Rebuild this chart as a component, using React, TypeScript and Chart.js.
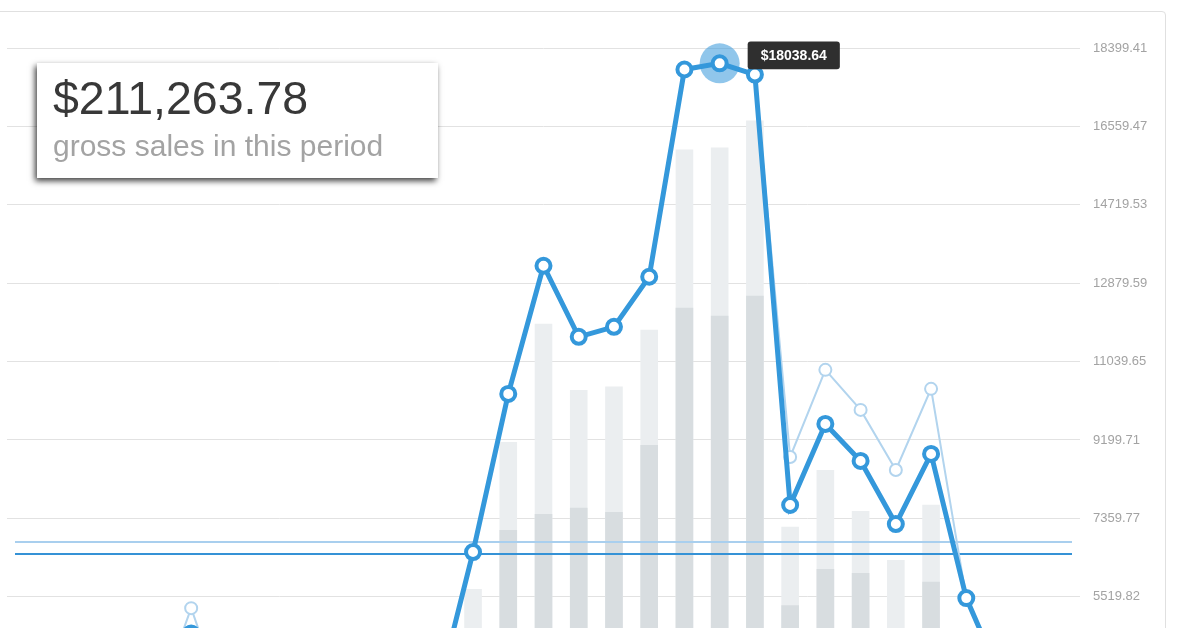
import React, { useEffect, useRef } from "react";
import { Chart, registerables, Tooltip } from "chart.js";

Chart.register(...registerables);

// ---- data ----
const days = ["1","2","3","4","5","6","7","8","9","10","11","12","13","14","15","16","17","18","19","20","21","22","23","24","25","26","27","28","29","30","31"];
const grossSales = [1850, 2420, 1610, 2180, 2950, 5254, 2870, 1540, 2090, 1760, 2330, 1980, 3280, 6570, 10282, 13289, 11621, 11856, 13031, 17895, 18038.64, 17777, 8802, 10846, 9906, 8496, 10400, 5489, 3585, 2240, 1690];
const netSales = [1850, 2420, 1610, 2180, 2800, 4660, 2700, 1540, 2090, 1760, 2150, 1980, 3280, 6570, 10282, 13289, 11621, 11856, 13031, 17895, 18038.64, 17777, 7674, 9577, 8708, 7227, 8872, 5489, 3585, 2240, 1690];
const barTotal = [2100, 3300, 1900, 2600, 3900, 4400, 3500, 1800, 2500, 2200, 2900, 2700, 4100, 5700, 9154, 11927, 10376, 10456, 11786, 16015, 16062, 16697, 7164, 8496, 7533, 6382, 7683, 4500, 4200, 2800, 2300];
const barPart = [1200, 1900, 1000, 1500, 2300, 2600, 2000, 900, 1400, 1300, 1700, 1500, 2500, 3800, 7087, 7462, 7611, 7509, 9084, 12303, 12115, 12585, 5324, 6170, 6076, 4300, 5874, 2900, 2700, 1600, 1300];
const yTickValues = [0, 1839.94, 3679.88, 5519.82, 7359.77, 9199.71, 11039.65, 12879.59, 14719.53, 16559.47, 18399.41];
const yTickLabels = ["0", "1839.94", "3679.88", "5519.82", "7359.77", "9199.71", "11039.65", "12879.59", "14719.53", "16559.47", "18399.41"];
const grossAverage = 6814.96;
const netAverage = 6523;
const activeIndex = 20;
const totalLabel = "$211,263.78";
const subLabel = "gross sales in this period";

const FONT = "'Helvetica Neue', Helvetica, Arial, 'Liberation Sans', sans-serif";
const BLUE = "#3498db";
const LIGHT_BLUE = "#b2d4ee";
const GRID = "#e2e2e2";

(Tooltip.positioners as any).besidePoint = function (elements: any[]) {
  if (!elements.length) return false;
  const el = elements[0].element;
  return { x: el.x + 28, y: el.y - 8, xAlign: "left", yAlign: "center" };
};

export default function App() {
  const ref = useRef<HTMLCanvasElement | null>(null);

  useEffect(() => {
    if (!ref.current) return;
    const overlayPlugin = {
      id: "overlay",
      beforeDatasetsDraw(chart: any) {
        const ctx = chart.ctx;
        const area = chart.chartArea;
        const y = chart.scales.y;
        ctx.save();
        ctx.strokeStyle = GRID;
        ctx.lineWidth = 1;
        y.ticks.forEach((t: any) => {
          const py = Math.round(y.getPixelForValue(t.value) - 0.5) + 0.5;
          ctx.beginPath();
          ctx.moveTo(7, py);
          ctx.lineTo(area.left + 1, py);
          ctx.stroke();
        });
        ctx.restore();
      },
      beforeDatasetDraw(chart: any, args: any) {
        const ctx = chart.ctx;
        const area = chart.chartArea;
        const y = chart.scales.y;
        if (args.index === 1) {
          ctx.save();
          ctx.lineWidth = 2;
          ctx.strokeStyle = "#a9cfee";
          const gy = Math.round(y.getPixelForValue(grossAverage));
          ctx.beginPath();
          ctx.moveTo(area.left, gy);
          ctx.lineTo(area.right, gy);
          ctx.stroke();
          ctx.strokeStyle = "#3592d6";
          const ny = Math.round(y.getPixelForValue(netAverage));
          ctx.beginPath();
          ctx.moveTo(area.left, ny);
          ctx.lineTo(area.right, ny);
          ctx.stroke();
          ctx.restore();
        }
        if (args.index === 0) {
          const pt = chart.getDatasetMeta(0).data[activeIndex];
          if (pt) {
            ctx.save();
            ctx.fillStyle = "rgba(52,152,219,0.55)";
            ctx.beginPath();
            ctx.arc(pt.x, pt.y, 20, 0, Math.PI * 2);
            ctx.fill();
            ctx.restore();
          }
        }
      },
    };

    const chart = new Chart(ref.current, {
      type: "bar",
      data: {
        labels: days,
        datasets: [
          {
            type: "line",
            label: "Net sales",
            data: netSales,
            borderColor: BLUE,
            borderWidth: 5,
            pointRadius: 7,
            pointBorderWidth: 4,
            pointBackgroundColor: "#ffffff",
            pointBorderColor: BLUE,
            tension: 0,
            order: 0,
          } as any,
          {
            type: "line",
            label: "Gross sales",
            data: grossSales,
            borderColor: LIGHT_BLUE,
            borderWidth: 2,
            pointRadius: 6,
            pointBorderWidth: 2,
            pointBackgroundColor: "#ffffff",
            pointBorderColor: LIGHT_BLUE,
            tension: 0,
            order: 1,
          } as any,
          {
            type: "bar",
            label: "Part",
            data: barPart,
            backgroundColor: "#d8dde0",
            grouped: false,
            barPercentage: 0.5,
            categoryPercentage: 1,
            order: 2,
          } as any,
          {
            type: "bar",
            label: "Total",
            data: barTotal,
            backgroundColor: "#ebeef0",
            grouped: false,
            barPercentage: 0.5,
            categoryPercentage: 1,
            order: 3,
          } as any,
        ],
      },
      options: {
        responsive: false,
        animation: false,
        devicePixelRatio: 1,
        events: [],
        layout: { padding: { left: 15, right: 0, top: 48, bottom: 48 } },
        plugins: {
          legend: { display: false },
          tooltip: {
            enabled: true,
            position: "besidePoint" as any,
            backgroundColor: "#2f2f2f",
            bodyColor: "#ffffff",
            bodyFont: { family: FONT, size: 14, weight: "bold" },
            padding: { left: 13, right: 13, top: 6, bottom: 5 },
            caretSize: 0,
            caretPadding: 0,
            cornerRadius: 3,
            displayColors: false,
            callbacks: {
              title: () => [],
              label: (c: any) => "$" + Number(c.parsed.y).toFixed(2),
            },
          },
        },
        scales: {
          x: {
            type: "category",
            offset: false,
            display: false,
            grid: { display: false },
          },
          y: {
            position: "right",
            min: 0,
            max: 18399.41,
            afterBuildTicks: (s: any) => {
              s.ticks = yTickValues.map((v) => ({ value: v }));
            },
            afterFit: (s: any) => {
              s.width = 128;
            },
            border: { display: false },
            grid: { color: GRID, lineWidth: 1, drawTicks: true, tickLength: 8 },
            ticks: {
              padding: 13,
              color: "#a3a3a3",
              font: { family: FONT, size: 13 },
              callback: (_v: any, i: number) => yTickLabels[i],
            },
          },
        },
      },
      plugins: [overlayPlugin],
    } as any);

    chart.tooltip!.setActiveElements([{ datasetIndex: 0, index: activeIndex }], { x: 0, y: 0 });
    chart.update();

    return () => chart.destroy();
  }, []);

  return (
    <div style={{ position: "fixed", left: 0, top: 0, width: 1200, height: 628, overflow: "hidden", background: "#fff", fontFamily: FONT }}>
      <div style={{ position: "absolute", left: -10, top: 11, width: 1176, height: 1000, border: "1px solid #e0e0e0", borderRadius: 4, boxSizing: "border-box" }} />
      <canvas ref={ref} width={1200} height={880} style={{ position: "absolute", left: 0, top: 0, width: 1200, height: 880 }} />
      <div style={{ position: "absolute", left: 37, top: 63, width: 401, height: 115, background: "#fff", boxShadow: "-2px 3px 6px rgba(0,0,0,0.75)" }}>
        <div style={{ position: "absolute", left: 16, top: 12, fontSize: 46.5, lineHeight: 1, color: "#383838", whiteSpace: "nowrap" }}>{totalLabel}</div>
        <div style={{ position: "absolute", left: 16, top: 68, fontSize: 30, lineHeight: 1, color: "#a3a3a3", whiteSpace: "nowrap" }}>{subLabel}</div>
      </div>
    </div>
  );
}
